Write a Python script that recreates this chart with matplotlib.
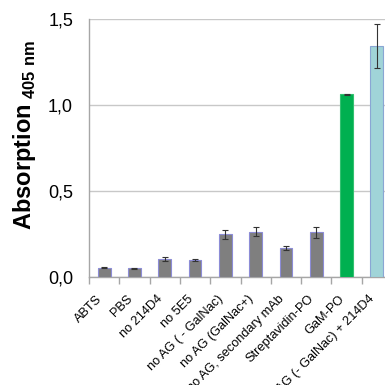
import matplotlib
matplotlib.use("Agg")
import matplotlib.pyplot as plt
import matplotlib.transforms as mtransforms
import numpy as np

categories = ["ABTS", "PBS", "no 214D4", "no 5E5", "no AG ( - GalNac)",
              "no AG (GalNac+)", "no AG, secondary mAb", "Streptavidin-PO",
              "GaM-PO", "no AG (- GalNac) + 214D4"]
values = [0.054, 0.050, 0.106, 0.097, 0.248, 0.263, 0.167, 0.260, 1.062, 1.345]
errors = [0.004, 0.003, 0.012, 0.006, 0.027, 0.025, 0.012, 0.033, 0.003, 0.128]
yticks = [0.0, 0.5, 1.0, 1.5]
ytick_labels = ["0,0", "0,5", "1,0", "1,5"]

face_colors = ["#7f7f7f"] * 8 + ["#00b050", "#a0d4d8"]
edge_colors = ["#8c8cd6"] * 8 + ["#33c070", "#8aa6d4"]

plt.rcParams["font.family"] = ["Liberation Sans", "DejaVu Sans"]
plt.rcParams["mathtext.fontset"] = "custom"
plt.rcParams["mathtext.rm"] = "Liberation Sans"
plt.rcParams["mathtext.bf"] = "Liberation Sans:bold"

fig = plt.figure(figsize=(3.85, 3.85), dpi=100)
ax = fig.add_axes([89 / 385, 108 / 385, 303 / 385, 258 / 385])

x = np.arange(len(categories))
ax.bar(x, values, width=0.42, color=face_colors, edgecolor=edge_colors,
       linewidth=0.8, zorder=3)
ax.errorbar(x, values, yerr=errors, fmt="none", ecolor="#333333",
            elinewidth=0.8, capsize=2, capthick=0.8, zorder=4)

ax.set_xlim(-0.5, len(categories) - 0.5)
ax.set_ylim(0, 1.5)
ax.set_yticks(yticks)
ax.set_yticklabels(ytick_labels, fontsize=13)
ax.tick_params(axis="y", length=0, pad=11.5)
ax.yaxis.grid(True, color="#c8c8c8", linewidth=1.0, zorder=0)

ax.set_xticks(x)
ax.set_xticklabels(categories, rotation=45, ha="right", va="center",
                   fontsize=9.2, rotation_mode="anchor")
ax.tick_params(axis="x", length=0, pad=14.4)
offset = mtransforms.ScaledTranslation(-4 / 100, 0, fig.dpi_scale_trans)
for lbl in ax.get_xticklabels():
    lbl.set_transform(lbl.get_transform() + offset)
ax.set_xticks(np.arange(-0.5, len(categories), 1.0), minor=True)
ax.tick_params(axis="x", which="minor", length=5, color="#a6a6a6", width=1)

for side in ["top", "right"]:
    ax.spines[side].set_visible(False)
for side in ["left", "bottom"]:
    ax.spines[side].set_color("#a6a6a6")
    ax.spines[side].set_linewidth(1)

ax.set_ylabel(r"$\mathbf{Absorption}_{\mathbf{\ 405\ nm}}$", fontsize=17)
ax.yaxis.set_label_coords(-0.168, 0.55)

fig.savefig("out.png", dpi=100)
